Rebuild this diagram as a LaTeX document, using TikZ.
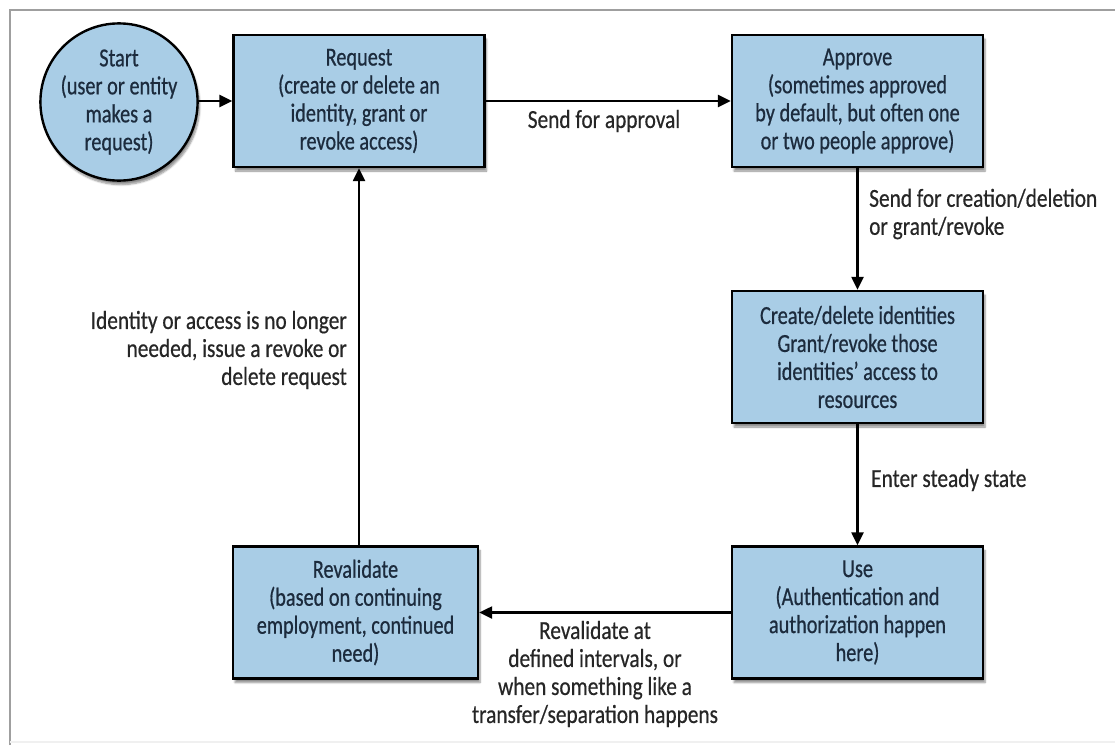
\documentclass[tikz,border=0pt]{standalone}
\usepackage{fontspec}
\setmainfont{Carlito}[FakeStretch=0.78, FakeBold=0.6]
\newfontfamily\notefont{Carlito}[FakeStretch=0.82, FakeBold=0.5]
\usetikzlibrary{arrows.meta,shadows.blur}
\definecolor{boxfill}{HTML}{A9CDE6}
\definecolor{boxtext}{HTML}{1C2B3D}
\definecolor{labeltext}{HTML}{262626}
\begin{document}
\begin{tikzpicture}[x=1pt,y=-1pt,
  stage/.style={draw=black, line width=2.4pt, fill=boxfill, text=boxtext,
    align=center, inner sep=0pt, font=\fontsize{26}{28}\selectfont,
    blur shadow={shadow xshift=2pt, shadow yshift=-4pt, shadow blur steps=6, shadow opacity=45}},
  boxnode/.style={stage, rectangle, minimum width=251pt, minimum height=132pt},
  startnode/.style={stage, circle, minimum size=130pt},
  flow/.style={line width=2.4pt, -{Triangle[length=13pt,width=12pt]}},
  note/.style={text=labeltext, inner sep=0pt, font=\notefont\fontsize{26}{28}\selectfont}]
  \useasboundingbox (0,0) rectangle (1115,745);
  % outer frame
  \draw[gray!75, line width=2pt] (10,745) -- (10,10) -- (1115,10);
  \draw[gray!12, line width=1.5pt] (10,742) -- (1115,742);

  % stages
  \node[startnode] (start) at (119,102) {Start\\(user or entity\\makes a\\request)};
  \node[boxnode] (request) at (359,101) {Request\\(create or delete an\\identity, grant or\\revoke access)};
  \node[boxnode] (approve) at (857.5,101) {Approve\\(sometimes approved\\by default, but often one\\or two people approve)};
  \node[boxnode] (create) at (857.5,357) {Create/delete identities\\Grant/revoke those\\identities' access to\\resources};
  \node[boxnode] (use) at (857.5,612.5) {Use\\(Authentication and\\authorization happen\\here)};
  \node[boxnode, minimum width=245pt] (revalidate) at (355.5,612.5) {Revalidate\\(based on continuing\\employment, continued\\need)};

  % connectors
  \draw[flow] (start.east |- 0,101) -- (request.west |- 0,101);
  \draw[flow] (request) -- (approve);
  \draw[flow] (approve) -- (create);
  \draw[flow] (create) -- (use);
  \draw[flow] (use) -- (revalidate);
  \draw[flow] (revalidate.north -| 359,0) -- (request.south -| 359,0);

  % connector labels
  \node[note] (l1) at (604,121) {Send for approval};
  \node[note, anchor=west, align=left] (l2) at (869,214) {Send for creation/deletion\\or grant/revoke};
  \node[note, anchor=west] (l3) at (871,480) {Enter steady state};
  \node[note, anchor=east, align=right] (l4) at (347,350) {Identity or access is no longer\\needed, issue a revoke or\\delete request};
  \node[note, align=center] (l5) at (595,674) {Revalidate at\\defined intervals, or\\when something like a\\transfer/separation happens};
\end{tikzpicture}
\end{document}
